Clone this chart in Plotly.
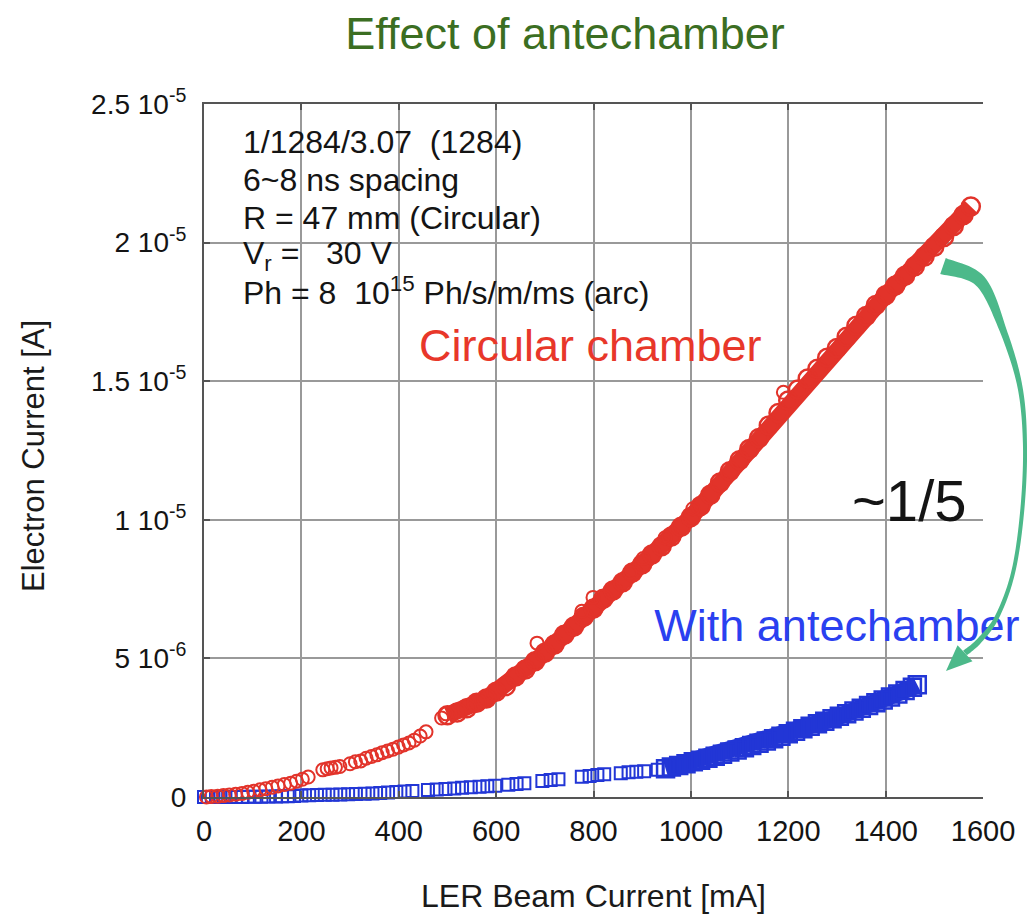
import numpy as np
import plotly.graph_objects as go

# ---------------- data: LER beam current [mA] vs electron current [uA] ----------------
# circular chamber, low-current clusters and a few stray points
circ_sparse_mA = [5, 15, 28, 40, 52, 65, 78, 90, 102, 115,
                  127, 140, 152, 165, 178, 190, 202, 214, 244, 253,
                  261, 270, 279, 300, 311, 322, 333, 344, 355, 366,
                  377, 388, 399, 410, 421, 432, 444, 456, 488, 497,
                  684, 776, 799, 875, 902, 947, 1004, 1190]
circ_sparse_uA = [0.0, 0.02, 0.03, 0.05, 0.07, 0.1, 0.13, 0.17, 0.21, 0.26,
                  0.3, 0.35, 0.4, 0.45, 0.5, 0.57, 0.64, 0.72, 0.98, 1.02,
                  1.05, 1.07, 1.1, 1.2, 1.27, 1.3, 1.4, 1.46, 1.52, 1.6,
                  1.66, 1.72, 1.8, 1.88, 1.95, 2.05, 2.2, 2.35, 2.85, 3.0,
                  5.55, 6.7, 7.2, 8.1, 8.6, 9.35, 10.4, 14.6]

# circular chamber, dense part of the scan
circ_band_mA = [500, 520, 540, 560, 580, 600, 620, 640, 660, 680,
                700, 720, 740, 760, 780, 800, 820, 840, 860, 880,
                900, 920, 940, 960, 980, 1000, 1020, 1040, 1060, 1080,
                1100, 1120, 1140, 1160, 1180, 1200, 1220, 1240, 1260, 1280,
                1300, 1320, 1340, 1360, 1380, 1400, 1420, 1440, 1460, 1480,
                1500, 1520, 1540, 1560, 1575]
circ_band_uA = [2.95, 3.05, 3.2, 3.4, 3.55, 3.8, 4.0, 4.35, 4.6, 4.9,
                5.2, 5.5, 5.85, 6.15, 6.5, 6.8, 7.15, 7.45, 7.75, 8.1,
                8.4, 8.75, 9.05, 9.4, 9.75, 10.1, 10.5, 10.9, 11.35, 11.75,
                12.15, 12.55, 12.95, 13.4, 13.85, 14.3, 14.7, 15.1, 15.45, 15.85,
                16.2, 16.6, 17.0, 17.35, 17.75, 18.1, 18.45, 18.8, 19.15, 19.5,
                19.85, 20.2, 20.6, 21.0, 21.3]

# chamber with antechamber, low-current points
ante_sparse_mA = [0, 8, 16, 25, 34, 44, 55, 66, 78, 90,
                  104, 118, 132, 148, 160, 172, 185, 200, 216, 232,
                  248, 264, 280, 296, 312, 330, 346, 362, 378, 395,
                  412, 428, 460, 478, 496, 514, 530, 548, 566, 582,
                  598, 625, 642, 658, 695, 712, 728, 776, 792, 808,
                  822, 856, 872, 888, 904, 932]
ante_sparse_uA = [0.0, 0.0, 0.0, 0.0, 0.0, 0.0, 0.0, 0.0, 0.0, 0.01,
                  0.01, 0.01, 0.02, 0.02, 0.03, 0.03, 0.04, 0.05, 0.06, 0.07,
                  0.08, 0.08, 0.09, 0.1, 0.11, 0.12, 0.13, 0.14, 0.16, 0.18,
                  0.2, 0.22, 0.25, 0.27, 0.29, 0.31, 0.33, 0.35, 0.37, 0.39,
                  0.41, 0.44, 0.47, 0.5, 0.58, 0.61, 0.64, 0.73, 0.76, 0.79,
                  0.82, 0.86, 0.89, 0.91, 0.93, 0.98]

# chamber with antechamber, dense part of the scan
ante_band_mA = [948, 960, 975, 990, 1005, 1020, 1035, 1050, 1065, 1080,
                1095, 1110, 1125, 1140, 1155, 1170, 1185, 1200, 1215, 1230,
                1245, 1260, 1275, 1290, 1305, 1320, 1335, 1350, 1365, 1380,
                1395, 1410, 1425, 1440, 1455, 1465]
ante_band_uA = [1.02, 1.08, 1.14, 1.2, 1.27, 1.33, 1.4, 1.47, 1.54, 1.62,
                1.7, 1.78, 1.86, 1.94, 2.02, 2.1, 2.19, 2.28, 2.37, 2.46,
                2.55, 2.64, 2.73, 2.82, 2.91, 3.0, 3.1, 3.2, 3.3, 3.4,
                3.5, 3.61, 3.72, 3.84, 3.96, 4.05]

x_ticks = [0, 200, 400, 600, 800, 1000, 1200, 1400, 1600]
y_ticks = [0, 5e-6, 1e-5, 1.5e-5, 2e-5, 2.5e-5]
y_tick_text = ["0", "5 10<sup>-6</sup>", "1 10<sup>-5</sup>", "1.5 10<sup>-5</sup>",
               "2 10<sup>-5</sup>", "2.5 10<sup>-5</sup>"]

info_lines = ["1/1284/3.07\u00a0\u00a0(1284)",
              "6~8 ns spacing",
              "R = 47 mm (Circular)",
              "V<sub>r</sub> =\u00a0\u00a0 30 V",
              "Ph = 8\u00a0\u00a010<sup>15</sup> Ph/s/m/ms (arc)"]

UA = 1e-6

# ---------------- styling ----------------
W, H = 1027, 919
ML, MR, MT, MB = 204, 44, 104, 122
PW, PH = W - ML - MR, H - MT - MB
FONT = "Liberation Sans, Arial, sans-serif"
RED = "#e2332a"
BLUE = "#2236d6"
GREEN_ARROW = "#4cb98a"
GRID = "#999999"
AXIS = "#555555"
INK = "#141414"


def px_to_paper(px, py):
    return (px - ML) / PW, (H - MB - py) / PH


fig = go.Figure()

fig.add_trace(go.Scatter(
    x=ante_band_mA, y=np.array(ante_band_uA) * UA, mode="lines+markers",
    line=dict(color=BLUE, width=17),
    marker=dict(symbol="square-open", size=17, color=BLUE, line=dict(width=2.5)),
    cliponaxis=False, hoverinfo="x+y"))
fig.add_trace(go.Scatter(
    x=ante_sparse_mA, y=np.array(ante_sparse_uA) * UA, mode="markers",
    marker=dict(symbol="square-open", size=12, color=BLUE, line=dict(width=2)),
    cliponaxis=False, hoverinfo="x+y"))
fig.add_trace(go.Scatter(
    x=circ_band_mA, y=np.array(circ_band_uA) * UA, mode="lines+markers",
    line=dict(color=RED, width=17),
    marker=dict(symbol="circle-open", size=18, color=RED, line=dict(width=2.5)),
    cliponaxis=False, hoverinfo="x+y"))
fig.add_trace(go.Scatter(
    x=circ_sparse_mA, y=np.array(circ_sparse_uA) * UA, mode="markers",
    marker=dict(symbol="circle-open", size=13, color=RED, line=dict(width=2)),
    cliponaxis=False, hoverinfo="x+y"))

# series label drawn as a text trace so the arrow can sit over it
fig.add_trace(go.Scatter(
    x=[1300], y=[6.05e-6], mode="text", text=["With antechamber"],
    textfont=dict(family=FONT, size=45, color="#2a40f0"),
    cliponaxis=False, hoverinfo="skip"))

# ---------------- white backgrounds behind labels (hide grid only) ----------------
shapes = []
for (x0, y0, x1, y1) in [(206, 106, 726, 300), (822, 440, 1002, 545), (618, 592, 1027, 669)]:
    a0, b1 = px_to_paper(x0, y0)
    a1, b0 = px_to_paper(x1, y1)
    shapes.append(dict(type="rect", xref="paper", yref="paper", x0=a0, x1=a1, y0=b0, y1=b1,
                       fillcolor="white", line=dict(width=0), layer="between"))

# ---------------- curved "~1/5" arrow ----------------
arrow_pts = [(943, 266), (980, 281), (1003, 330), (1020, 387), (1025, 447),
             (1022, 513), (1013, 573), (997, 617), (979, 641), (965, 653)]
arrow_w = [17, 12, 7, 5, 4, 4, 4, 4.5, 5.5, 6]


def catmull(points, widths, n=14):
    pts = [points[0]] + list(points) + [points[-1]]
    out, ws = [], []
    for i in range(1, len(pts) - 2):
        p0, p1, p2, p3 = (np.array(p, float) for p in pts[i - 1:i + 3])
        for t in np.linspace(0, 1, n, endpoint=False):
            t2, t3 = t * t, t * t * t
            out.append(0.5 * (2 * p1 + (-p0 + p2) * t + (2 * p0 - 5 * p1 + 4 * p2 - p3) * t2
                              + (-p0 + 3 * p1 - 3 * p2 + p3) * t3))
            ws.append(widths[i - 1] + (widths[i] - widths[i - 1]) * t)
    out.append(np.array(points[-1], float))
    ws.append(widths[-1])
    return np.array(out), np.array(ws)


cl, cw = catmull(arrow_pts, arrow_w)
tan = np.gradient(cl, axis=0)
tan /= np.linalg.norm(tan, axis=1)[:, None]
nrm = np.stack([-tan[:, 1], tan[:, 0]], axis=1)
left = cl + nrm * cw[:, None] / 2
right = cl - nrm * cw[:, None] / 2
poly = list(left) + list(right[::-1])


def path_from(points):
    segs = []
    for i, (px, py) in enumerate(points):
        a, b = px_to_paper(px, py)
        segs.append(("M" if i == 0 else "L") + f"{a:.5f},{b:.5f}")
    return " ".join(segs) + " Z"


shapes.append(dict(type="path", xref="paper", yref="paper", path=path_from(poly),
                   fillcolor=GREEN_ARROW, line=dict(width=0), layer="above"))

tip = np.array([946.0, 671.0])
d = tip - cl[-4]
d /= np.linalg.norm(d)
nn = np.array([-d[1], d[0]])
base = tip - 26 * d
head = [tuple(tip), tuple(base + 11 * nn), tuple(base - 11 * nn)]
shapes.append(dict(type="path", xref="paper", yref="paper", path=path_from(head),
                   fillcolor=GREEN_ARROW, line=dict(width=0), layer="above"))

# ---------------- annotations ----------------
annotations = []


def label(text, px, py, size, color, **kw):
    x, y = px_to_paper(px, py)
    annotations.append(dict(text=text, xref="paper", yref="paper", x=x, y=y,
                            xanchor=kw.pop("xanchor", "center"), yanchor="middle",
                            showarrow=False, font=dict(family=FONT, size=size, color=color), **kw))


for line_text, line_y in zip(info_lines, [142, 180, 218, 255, 291]):
    label(line_text, 241, line_y, 32, INK, xanchor="left", align="left")

label("Circular chamber", 590, 345, 45, "#e8372a")
label("~1/5", 909, 500, 58, INK)
label("LER Beam Current [mA]", 593, 896, 32, "#1a1a1a")
label("Electron Current [A]", 33, 456, 31, "#1a1a1a", textangle=-90)

fig.update_layout(
    width=W, height=H,
    margin=dict(l=ML, r=MR, t=MT, b=MB),
    plot_bgcolor="white", paper_bgcolor="white",
    showlegend=False,
    title=dict(text="Effect of antechamber", x=565 / W, xanchor="center",
               y=1 - 33 / H, yanchor="middle",
               font=dict(family=FONT, size=45, color="#3b6e22")),
    shapes=shapes,
    annotations=annotations,
)

fig.update_xaxes(
    range=[0, 1600], tickvals=x_ticks, ticktext=[str(v) for v in x_ticks],
    showgrid=True, gridcolor=GRID, gridwidth=2, zeroline=False,
    showline=True, linecolor=AXIS, linewidth=2, mirror="ticks",
    ticks="inside", ticklen=6, tickwidth=2, tickcolor=AXIS,
    tickfont=dict(family=FONT, size=29, color=INK), ticklabelstandoff=7,
)
fig.update_yaxes(
    range=[0, 2.5e-5], tickvals=y_ticks, ticktext=y_tick_text,
    showgrid=True, gridcolor=GRID, gridwidth=2, zeroline=False,
    showline=True, linecolor=AXIS, linewidth=2,
    ticks="inside", ticklen=6, tickwidth=2, tickcolor=AXIS,
    tickfont=dict(family=FONT, size=28, color=INK), ticklabelstandoff=10,
)

fig.write_html("out.html")
